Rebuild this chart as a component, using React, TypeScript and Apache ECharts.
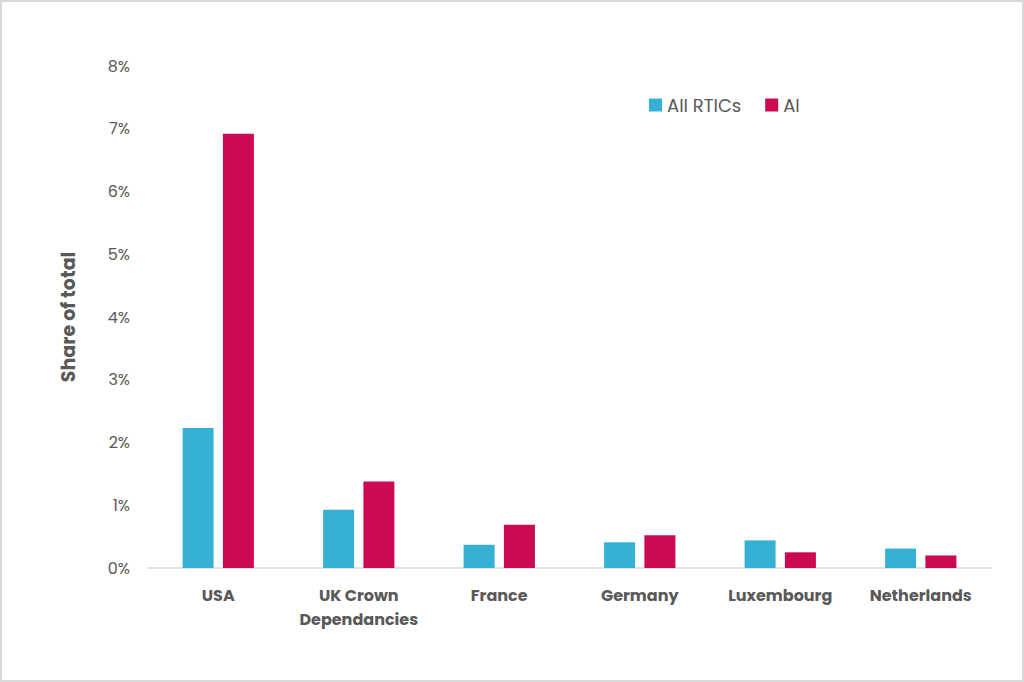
import React, { useEffect, useRef } from "react";
import * as echarts from "echarts";

const categories = ["USA", "UK Crown\nDependancies", "France", "Germany", "Luxembourg", "Netherlands"];
const allRtics = [2.23, 0.93, 0.37, 0.41, 0.44, 0.31];
const ai = [6.92, 1.38, 0.69, 0.52, 0.25, 0.2];
const seriesNames = ["All RTICs", "AI"];

export default function App() {
  const ref = useRef<HTMLDivElement>(null);
  useEffect(() => {
    if (!ref.current) return;
    const chart = echarts.init(ref.current, null, { renderer: "svg" });
    const font = "Poppins, 'Noto Sans', sans-serif";
    chart.setOption({
      animation: false,
      backgroundColor: "#ffffff",
      graphic: [
        {
          type: "rect",
          shape: { x: 1, y: 1, width: 1022, height: 680 },
          style: { fill: "none", stroke: "#d9d9d9", lineWidth: 2 },
          silent: true,
        },
      ],
      legend: {
        left: 644,
        top: 91,
        itemWidth: 13,
        itemHeight: 13,
        itemGap: 24,
        icon: "rect",
        textStyle: { color: "#595959", fontSize: 18, fontFamily: font },
        data: seriesNames,
      },
      grid: { left: 148, right: 33, top: 66, bottom: 114 },
      xAxis: {
        type: "category",
        data: categories,
        axisLine: { lineStyle: { color: "#d9d9d9", width: 1.5 } },
        axisTick: { show: false },
        axisLabel: {
          color: "#595959",
          fontSize: 16,
          fontWeight: "bold",
          fontFamily: font,
          margin: 15,
          lineHeight: 24,
          interval: 0,
        },
      },
      yAxis: {
        type: "value",
        min: 0,
        max: 8,
        interval: 1,
        name: "Share of total",
        nameLocation: "middle",
        nameGap: 70,
        nameTextStyle: { color: "#595959", fontSize: 19, fontWeight: "bold", fontFamily: font },
        axisLine: { show: false },
        axisTick: { show: false },
        splitLine: { show: false },
        axisLabel: {
          color: "#595959",
          fontSize: 16,
          fontFamily: font,
          margin: 18,
          formatter: (v: number) => v + "%",
        },
      },
      series: [
        {
          name: seriesNames[0],
          type: "bar",
          data: allRtics,
          barWidth: 31,
          barGap: "30%",
          itemStyle: { color: "#36b1d3" },
        },
        {
          name: seriesNames[1],
          type: "bar",
          data: ai,
          barWidth: 31,
          itemStyle: { color: "#cb0a53" },
        },
      ],
    });
    return () => chart.dispose();
  }, []);
  return (
    <div
      ref={ref}
      style={{ position: "fixed", left: 0, top: 0, width: 1024, height: 682 }}
    />
  );
}
